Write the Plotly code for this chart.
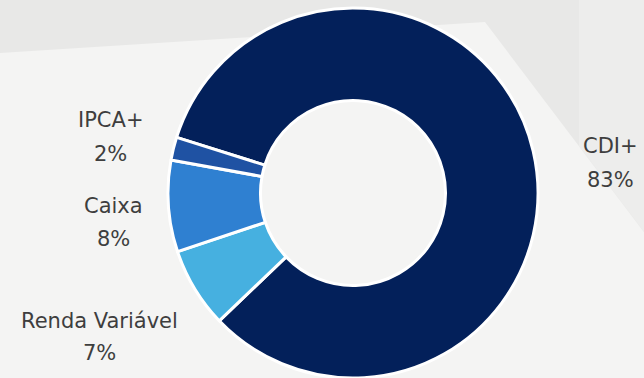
import plotly.graph_objects as go

# Data
labels = ["CDI+", "Renda Variável", "Caixa", "IPCA+"]
values = [83, 7, 8, 2]
colors = ["#03205a", "#46b0e0", "#2f80d1", "#1f52a3"]

W, H = 644, 378

# label anchor positions in pixels (layout)
label_pos = {
    "CDI+": (610, 146, 180),
    "Renda Variável": (99, 321, 353),
    "Caixa": (113, 206, 239),
    "IPCA+": (110, 120, 154),
}

fig = go.Figure()
fig.add_trace(go.Pie(
    labels=labels,
    values=values,
    hole=0.5,
    sort=False,
    direction="clockwise",
    rotation=-72.5,
    marker=dict(colors=colors, line=dict(color="#ffffff", width=3)),
    textinfo="none",
    hoverinfo="label+percent",
    showlegend=False,
    domain=dict(x=[(353 - 185) / W, (353 + 185) / W], y=[0, 370 / H]),
))

total = sum(values)
annotations = []
for lab, val in zip(labels, values):
    px, y1, y2 = label_pos[lab]
    pct = f"{round(100 * val / total)}%"
    for txt, py in ((lab, y1), (pct, y2)):
        annotations.append(dict(
            x=px / W, y=1 - py / H, xref="paper", yref="paper",
            text=txt, showarrow=False, xanchor="center", yanchor="middle",
            font=dict(family="DejaVu Sans", size=21, color="#3e3e3e"),
        ))

def path(pts):
    s = "M " + " L ".join(f"{x / W:.4f},{1 - y / H:.4f}" for x, y in pts) + " Z"
    return s

shapes = [
    dict(type="path", xref="paper", yref="paper", layer="below",
         path=path([(0, 0), (644, 0), (644, 232), (485, 22), (0, 53)]),
         fillcolor="#e8e8e7", line=dict(width=0)),
    dict(type="path", xref="paper", yref="paper", layer="below",
         path=path([(579, 0), (644, 0), (644, 232), (579, 146)]),
         fillcolor="#ededec", line=dict(width=0)),
]

fig.update_layout(
    width=W, height=H,
    margin=dict(l=0, r=0, t=0, b=0),
    paper_bgcolor="#f4f4f3",
    plot_bgcolor="#f4f4f3",
    annotations=annotations,
    shapes=shapes,
)

fig.write_html("out.html")
